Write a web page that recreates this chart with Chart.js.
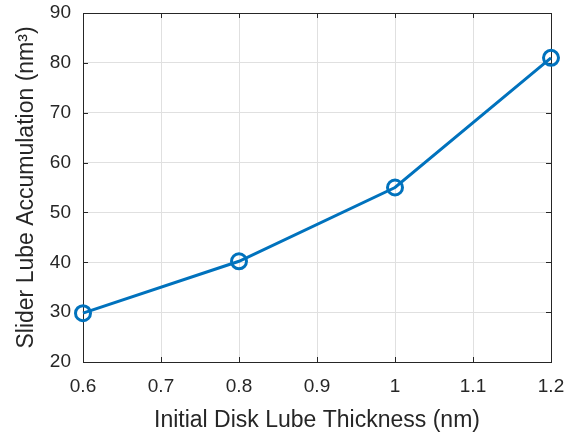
<!DOCTYPE html>
<html>
<head>
<meta charset="utf-8">
<script src="https://cdn.jsdelivr.net/npm/chart.js@4.4.1/dist/chart.umd.min.js"></script>
<style>
  html, body { margin: 0; padding: 0; background: #fff; }
  #wrap { width: 566px; height: 436px; }
</style>
</head>
<body>
<div id="wrap"><canvas id="c" width="566" height="436"></canvas></div>
<script>
// Lube thickness (nm) and accumulated lube on the slider (nm^3)
const thickness = [0.6, 0.8, 1.0, 1.2];
const accumulation = [29.8, 40.2, 55.0, 81.0];
const xTicks = [0.6, 0.7, 0.8, 0.9, 1.0, 1.1, 1.2];
const yTicks = [20, 30, 40, 50, 60, 70, 80, 90];

const AXIS_COLOR = '#262626';
const GRID_COLOR = '#e0e0e0';
const LINE_COLOR = '#0072bd';
const FONT = '"Liberation Sans", Arial, Helvetica, sans-serif';

// Box around the plot area with inward tick marks on all four sides
const boxPlugin = {
  id: 'box',
  beforeDatasetsDraw(chart) {
    const { ctx, chartArea: a, scales } = chart;
    ctx.save();
    ctx.strokeStyle = AXIS_COLOR;
    ctx.lineWidth = 1;
    ctx.strokeRect(Math.round(a.left) + 0.5, Math.round(a.top) + 0.5,
                   Math.round(a.right - a.left), Math.round(a.bottom - a.top));
    const len = 5;
    ctx.beginPath();
    xTicks.forEach(v => {
      const x = Math.round(scales.x.getPixelForValue(v)) + 0.5;
      ctx.moveTo(x, a.bottom); ctx.lineTo(x, a.bottom - len);
      ctx.moveTo(x, a.top); ctx.lineTo(x, a.top + len);
    });
    yTicks.forEach(v => {
      const y = Math.round(scales.y.getPixelForValue(v)) + 0.5;
      ctx.moveTo(a.left, y); ctx.lineTo(a.left + len, y);
      ctx.moveTo(a.right, y); ctx.lineTo(a.right - len, y);
    });
    ctx.stroke();
    ctx.restore();
  }
};

new Chart(document.getElementById('c'), {
  type: 'line',
  data: {
    datasets: [{
      data: thickness.map((t, i) => ({ x: t, y: accumulation[i] })),
      borderColor: LINE_COLOR,
      borderWidth: 3,
      backgroundColor: 'rgba(0,0,0,0)',
      pointBackgroundColor: 'rgba(0,0,0,0)',
      pointBorderColor: LINE_COLOR,
      pointBorderWidth: 3,
      pointRadius: 7.5,
      pointHoverRadius: 7.5,
      tension: 0,
      clip: false
    }]
  },
  options: {
    responsive: false,
    animation: false,
    devicePixelRatio: 1,
    layout: { padding: { top: 13, right: 15, left: 0, bottom: 0 } },
    plugins: { legend: { display: false }, tooltip: { enabled: false } },
    scales: {
      x: {
        type: 'linear',
        min: 0.6, max: 1.2,
        afterFit(s) { s.height = 74; s.paddingLeft = 0; s.paddingRight = 0; },
        afterBuildTicks(s) { s.ticks = xTicks.map(v => ({ value: v })); },
        grid: { color: GRID_COLOR, drawTicks: false, lineWidth: 1 },
        border: { display: false },
        ticks: {
          padding: 13,
          color: AXIS_COLOR,
          font: { family: FONT, size: 19 },
          maxRotation: 0,
          callback: v => String(Number(v.toFixed(1)))
        },
        title: {
          display: true,
          text: 'Initial Disk Lube Thickness (nm)',
          color: AXIS_COLOR,
          font: { family: FONT, size: 23 },
          padding: { top: 0, bottom: 2 }
        }
      },
      y: {
        type: 'linear',
        min: 20, max: 90,
        afterFit(s) { s.width = 83; s.paddingTop = 0; s.paddingBottom = 0; },
        afterBuildTicks(s) { s.ticks = yTicks.map(v => ({ value: v })); },
        grid: { color: GRID_COLOR, drawTicks: false, lineWidth: 1 },
        border: { display: false },
        ticks: {
          padding: 12,
          color: AXIS_COLOR,
          font: { family: FONT, size: 19 },
          callback: v => String(v)
        },
        title: {
          display: true,
          text: 'Slider Lube Accumulation (nm³)',
          color: AXIS_COLOR,
          font: { family: FONT, size: 23 },
          padding: { top: 13, bottom: 0 }
        }
      }
    }
  },
  plugins: [boxPlugin]
});
</script>
</body>
</html>
